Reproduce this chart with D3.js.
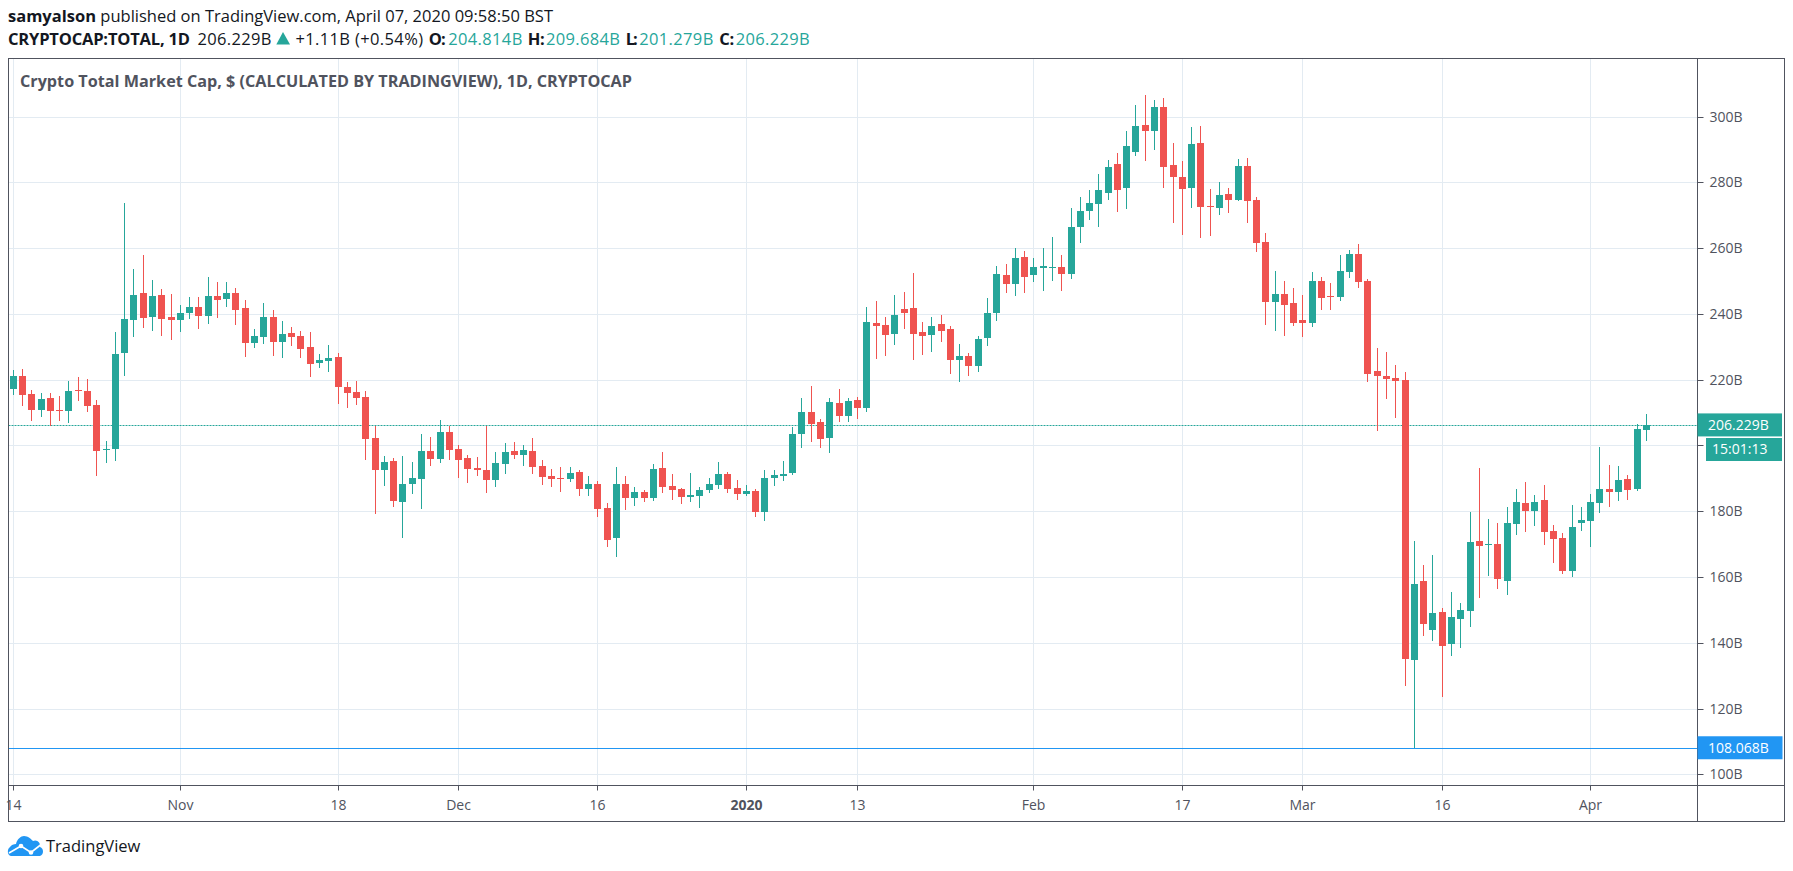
<!DOCTYPE html>
<html>
<head>
<meta charset="utf-8">
<title>CRYPTOCAP:TOTAL</title>
<script src="https://cdn.jsdelivr.net/npm/d3@7"></script>
<style>
  html,body{margin:0;padding:0;background:#fff;}
  svg{display:block;font-family:"Open Sans",sans-serif;}
</style>
</head>
<body>
<svg id="chart" width="1793" height="871"></svg>
<script>
//daily candles, billions of dollars, 14 Oct 2019 - 7 Apr 2020
const startDay='2019-10-14'
const opens=[
217.1,221.1,215.6,210.7,214.4,210.7,210.4,216.8,216.5,212.2,
198.6,198.9,228.1,238.1,246.3,239.0,245.7,239.0,238.1,240.2,
242.1,239.3,245.4,244.5,246.3,241.8,231.1,232.9,239.0,231.4,
234.2,233.2,229.9,225.0,225.6,226.8,217.7,216.2,214.7,202.2,
192.5,195.2,182.7,188.2,189.7,198.2,195.8,204.0,198.9,196.1,
193.1,192.5,189.4,194.3,198.3,197.0,198.3,193.7,190.6,190.0,
189.7,191.9,186.7,188.2,180.9,171.8,188.2,184.0,185.8,184.0,
193.1,187.6,186.7,184.3,184.6,186.4,187.9,191.3,187.0,185.2,
186.1,179.7,190.0,190.6,191.6,203.4,210.1,207.1,202.2,212.9,
208.9,213.8,211.3,237.2,236.6,233.8,241.4,241.8,234.5,233.5,
236.9,235.4,225.9,227.2,224.1,232.6,240.2,251.8,249.1,257.3,
251.8,253.9,253.9,254.2,252.1,266.4,271.2,273.4,276.7,285.6,
278.3,289.2,297.4,295.6,302.9,285.2,281.6,278.3,291.9,272.8,
272.2,276.4,274.6,284.9,274.6,261.8,243.6,246.0,243.3,238.1,
237.2,250.0,245.4,245.1,252.7,258.2,250.0,222.6,221.1,220.5,
219.9,134.7,158.7,143.8,149.3,139.5,147.1,149.6,170.9,169.7,
170.0,158.7,176.0,182.4,180.0,183.3,173.9,171.8,161.7,176.3,
177.0,182.4,186.7,185.8,189.7,186.7,204.814]
const highs=[
222.9,223.2,216.8,215.9,215.9,215.0,219.5,220.8,220.2,213.8,
201.3,234.4,273.8,253.6,257.9,250.3,247.5,246.0,242.7,245.1,
245.1,251.2,249.7,249.7,247.8,244.2,235.4,243.3,241.1,237.8,
236.0,234.8,234.4,227.8,230.5,228.1,219.2,219.5,216.5,205.9,
196.7,196.1,196.7,194.9,203.4,202.5,207.7,205.9,200.1,197.0,
196.4,205.9,198.0,200.7,201.0,200.1,202.2,195.5,192.8,193.4,
193.4,192.5,190.6,189.1,182.4,193.4,190.6,187.3,186.4,194.3,
198.0,191.3,187.0,191.6,187.3,190.0,194.9,191.9,189.4,187.9,
186.7,192.5,192.5,195.2,205.6,214.4,218.0,208.0,214.4,217.1,
214.4,214.7,242.0,243.9,239.0,245.7,246.6,252.4,237.5,239.0,
239.6,236.3,230.8,228.1,233.2,244.8,254.5,255.1,260.0,259.1,
257.0,260.0,263.4,257.9,272.2,275.5,277.6,282.5,286.8,288.9,
295.6,303.5,306.5,305.0,305.6,291.9,286.5,296.8,297.1,277.9,
280.1,278.3,287.1,287.4,275.5,264.6,253.0,250.0,247.9,245.7,
252.7,251.2,249.4,257.9,259.4,261.2,250.6,229.6,228.4,224.4,
222.3,170.9,163.6,166.6,150.5,155.4,152.0,179.7,193.1,177.6,
176.3,181.2,186.7,188.8,184.9,187.9,175.7,173.3,181.8,181.2,
185.2,199.5,194.0,193.7,190.9,206.5,209.684]
const lows=[
215.3,211.9,207.4,208.6,205.9,207.4,206.8,213.5,210.1,190.6,
194.6,195.2,221.1,232.9,235.7,234.8,233.2,232.0,234.4,238.4,
235.4,236.9,238.7,242.1,236.6,226.8,229.6,230.8,227.2,226.5,
230.2,226.5,220.8,223.5,222.3,212.5,211.3,212.2,195.5,179.1,
187.6,181.2,171.8,185.2,180.6,193.7,194.6,195.5,190.0,188.5,
190.6,185.5,187.3,191.3,195.8,193.7,191.3,187.9,187.3,185.8,
188.8,184.6,184.6,178.2,169.0,166.0,180.3,181.5,182.7,183.0,
185.5,183.3,182.1,182.7,180.9,185.5,186.7,185.5,183.3,184.6,
178.2,177.0,187.6,189.1,191.0,199.2,201.0,199.2,197.6,207.1,
207.1,208.0,210.1,226.2,227.2,230.5,235.4,225.9,227.5,228.4,
231.4,221.7,219.2,221.1,222.3,230.2,237.8,246.3,245.4,246.3,
249.7,246.9,250.0,246.9,250.6,261.5,268.5,266.4,274.6,271.0,
271.9,288.0,286.5,289.8,278.3,267.6,263.9,272.2,263.0,263.6,
270.0,270.6,274.3,267.6,258.8,236.6,234.8,233.2,236.3,232.9,
236.0,241.2,241.2,243.9,250.9,247.9,219.2,204.3,214.1,208.3,
126.8,108.068,142.0,140.5,123.4,135.9,138.3,144.7,153.5,160.2,
156.3,154.4,172.7,173.6,175.4,169.7,164.2,160.8,159.9,173.9,
169.0,179.4,181.2,183.0,183.3,186.1,201.279]
const closes=[
221.1,215.3,210.7,214.1,210.4,210.4,216.5,216.5,211.9,198.2,
198.9,227.8,238.4,245.7,238.7,245.4,238.4,238.1,240.2,242.1,
239.3,245.4,244.2,246.3,241.1,231.1,233.2,239.0,231.4,233.8,
232.9,229.3,224.7,225.9,226.5,217.7,215.9,214.4,201.9,192.5,
194.9,183.0,188.2,190.0,198.2,195.8,204.0,198.6,195.5,192.8,
192.5,189.4,194.6,198.0,197.0,198.6,193.4,190.3,189.7,189.7,
191.6,186.7,188.2,180.6,171.2,188.2,184.0,185.8,184.0,192.8,
187.3,186.4,184.3,184.9,186.4,188.2,191.3,186.7,185.2,186.1,
179.7,190.0,191.0,191.3,203.4,210.1,206.5,201.9,213.2,208.9,
213.5,211.3,237.5,236.3,233.5,239.6,240.2,233.8,233.2,236.3,
234.8,225.9,227.2,224.1,232.3,240.2,252.1,249.1,257.0,251.2,
254.2,254.5,254.2,252.1,266.4,271.2,273.7,277.6,284.6,277.6,
291.0,297.1,295.6,302.9,284.6,281.6,277.9,291.6,272.5,272.5,
276.1,274.6,284.9,274.3,261.5,243.6,246.0,242.7,237.2,237.2,
250.0,244.8,245.1,253.0,258.2,249.7,221.7,221.1,220.2,219.5,
135.0,157.8,145.6,149.0,138.9,147.8,149.9,170.6,169.4,170.0,
159.3,176.3,182.7,180.0,182.7,173.6,171.5,161.7,175.1,177.3,
182.7,186.7,185.8,189.4,186.4,205.0,206.229]

const priceTicks=[100,120,140,160,180,200,220,240,260,280,300]
const dateTicks=['2019-10-14','2019-11-01','2019-11-18','2019-12-01','2019-12-16','2020-01-01','2020-01-13','2020-02-01','2020-02-17','2020-03-01','2020-03-16','2020-04-01']
const dateLabels=['14','Nov','18','Dec','16','2020','13','Feb','17','Mar','16','Apr']
const lastPrice=206.229
const lowMark=108.068

const upColor='#26a69a'
const downColor='#ef5350'
const gridColor='#e3ebf2'
const frameColor='#50535e'
const blue='#2196f3'

const parseDay=d3.utcParse('%Y-%m-%d')
const firstDay=parseDay(startDay)
const days=closes.map((d,i)=>d3.utcDay.offset(firstDay,i))

const svg=d3.select('#chart')

const x=d3.scaleUtc()
  .domain([firstDay,days[days.length-1]])
  .range([13.3,1646.3])
const y=d3.scaleLinear()
  .domain([100,300])
  .range([774.3,116.5])

const plotLeft=8.5, plotTop=58.5, plotRight=1697.5, plotBottom=785.5, outerRight=1784.5, outerBottom=821.5
const tickDates=dateTicks.map(parseDay)

//сетка
const grid=svg.append('g').attr('stroke',gridColor)
grid.selectAll('line.v').data(tickDates).join('line').attr('class','v')
  .attr('x1',d=>Math.floor(x(d))+.5).attr('x2',d=>Math.floor(x(d))+.5)
  .attr('y1',plotTop).attr('y2',plotBottom)
grid.selectAll('line.h').data(priceTicks).join('line').attr('class','h')
  .attr('x1',plotLeft).attr('x2',plotRight)
  .attr('y1',d=>Math.round(y(d))+.5).attr('y2',d=>Math.round(y(d))+.5)

//уровни
svg.append('line')
  .attr('x1',plotLeft).attr('x2',plotRight)
  .attr('y1',Math.round(y(lastPrice))+.5).attr('y2',Math.round(y(lastPrice))+.5)
  .attr('stroke',upColor).attr('stroke-dasharray','2,1')
svg.append('line')
  .attr('x1',plotLeft).attr('x2',plotRight)
  .attr('y1',Math.round(y(lowMark))+.5).attr('y2',Math.round(y(lowMark))+.5)
  .attr('stroke',blue)

//свечи
const candles=svg.append('g').selectAll('g').data(days).join('g')
  .attr('fill',(d,i)=>closes[i]>=opens[i]?upColor:downColor)
  .attr('stroke',(d,i)=>closes[i]>=opens[i]?upColor:downColor)
candles.append('line')
  .attr('x1',d=>Math.floor(x(d))+.5).attr('x2',d=>Math.floor(x(d))+.5)
  .attr('y1',(d,i)=>y(highs[i])).attr('y2',(d,i)=>y(lows[i]))
  .attr('shape-rendering','crispEdges')
candles.append('rect')
  .attr('x',d=>Math.floor(x(d))-3)
  .attr('width',7)
  .attr('y',(d,i)=>Math.round(y(Math.max(opens[i],closes[i]))))
  .attr('height',(d,i)=>Math.max(1,Math.round(Math.abs(y(opens[i])-y(closes[i])))))
  .attr('stroke','none')

//оси, подпись 200B закрыта таймером, как на картинке
const yAxis=d3.axisRight(y).tickValues(priceTicks).tickFormat(d=>d==200?'':d+'B').tickSize(6).tickPadding(6)
const xAxis=d3.axisBottom(x).tickValues(tickDates).tickFormat((d,i)=>dateLabels[i]).tickSize(5).tickPadding(10)
const yG=svg.append('g').attr('transform',`translate(${plotRight},0)`).call(yAxis)
const xG=svg.append('g').attr('transform',`translate(0,${plotBottom})`).call(xAxis)
yG.select('.domain').remove()
xG.select('.domain').remove()
xG.selectAll('.tick').attr('transform',d=>`translate(${Math.floor(x(d))+.5},0)`)
yG.selectAll('.tick').attr('transform',d=>`translate(0,${Math.round(y(d))+.5})`)
svg.selectAll('.tick line').attr('stroke',frameColor)
svg.selectAll('.tick text').attr('fill',frameColor).style('font-size','14px')
  .style('font-family','"Open Sans",sans-serif')
xG.selectAll('.tick text').filter((d,i)=>dateLabels[i]=='2020').style('font-weight','700')

//рамка
const frame=svg.append('g').attr('fill','none').attr('stroke',frameColor).attr('stroke-width',1)
frame.append('rect').attr('x',plotLeft).attr('y',plotTop).attr('width',outerRight-plotLeft).attr('height',outerBottom-plotTop)
frame.append('line').attr('x1',plotRight).attr('x2',plotRight).attr('y1',plotTop).attr('y2',outerBottom)
frame.append('line').attr('x1',plotLeft).attr('x2',outerRight).attr('y1',plotBottom).attr('y2',plotBottom)

//метки цены справа
function priceTag(x0,y0,w,h,color,label,textX){
  svg.append('rect').attr('x',x0).attr('y',y0).attr('width',w).attr('height',h).attr('fill',color)
  svg.append('text').attr('x',textX).attr('y',y0+h/2).attr('dy','.35em')
    .attr('fill','#fff').style('font-size','14px').text(label)
}
priceTag(plotRight,y(lastPrice)-11.5,84.5,23,upColor,lastPrice.toFixed(3)+'B',1708)
priceTag(1706,438,76,23,upColor,'15:01:13',1712)
priceTag(plotRight,y(lowMark)-11.5,85,23,blue,lowMark.toFixed(3)+'B',1708)

//шапка
const line1=svg.append('text').attr('x',8).attr('y',22).style('font-size','16.5px').attr('fill','#131722')
line1.append('tspan').style('font-weight','700').text('samyalson')
line1.append('tspan').text(' published on TradingView.com, April 07, 2020 09:58:50 BST')

function headerText(txt,xPos,len,bold,color){
  svg.append('text').attr('x',xPos).attr('y',45)
    .attr('textLength',len).attr('lengthAdjust','spacing')
    .attr('fill',color||'#131722')
    .style('font-size','16.5px').style('font-weight',bold?'700':'400')
    .text(txt)
}
headerText('CRYPTOCAP:TOTAL, 1D',8,182,true)
headerText('206.229B',197.5,74,false)
svg.append('path').attr('d','M276.3,44.5L283,32L290,44.5Z').attr('fill',upColor)
headerText('+1.11B (+0.54%)',295.5,127.5,false)
headerText('O:',428.7,17,true)
headerText('204.814B',448.3,74,false,upColor)
headerText('H:',527.7,17,true)
headerText('209.684B',546,74,false,upColor)
headerText('L:',625.7,12,true)
headerText('201.279B',639.3,74,false,upColor)
headerText('C:',719.3,15,true)
headerText('206.229B',735.7,74,false,upColor)

svg.append('text').attr('x',20).attr('y',87).attr('fill',frameColor)
  .style('font-size','16.2px').style('font-weight','700')
  .text('Crypto Total Market Cap, $ (CALCULATED BY TRADINGVIEW), 1D, CRYPTOCAP')

//логотип
const logo=svg.append('g').attr('transform','translate(8,836)')
logo.append('path').attr('fill',blue)
  .attr('d','M3,20C-1,19 -1,13 2,11C3,9 6,8 8,8C9,3 13,0 16,0C20,0 23,3 25,5C29,3 33,7 32,11C36,12 36,19 32,20Z')
logo.append('path').attr('fill','none').attr('stroke','#fff').attr('stroke-width',1.6)
  .attr('d','M1,17L13,10L23,16.5L35,7')
logo.append('circle').attr('cx',13).attr('cy',10).attr('r',2.3).attr('fill','#fff')
logo.append('circle').attr('cx',23).attr('cy',16.5).attr('r',2.3).attr('fill','#fff')
svg.append('text').attr('x',46).attr('y',852).attr('fill','#131722').style('font-size','16.5px').text('TradingView')
</script>
</body>
</html>
